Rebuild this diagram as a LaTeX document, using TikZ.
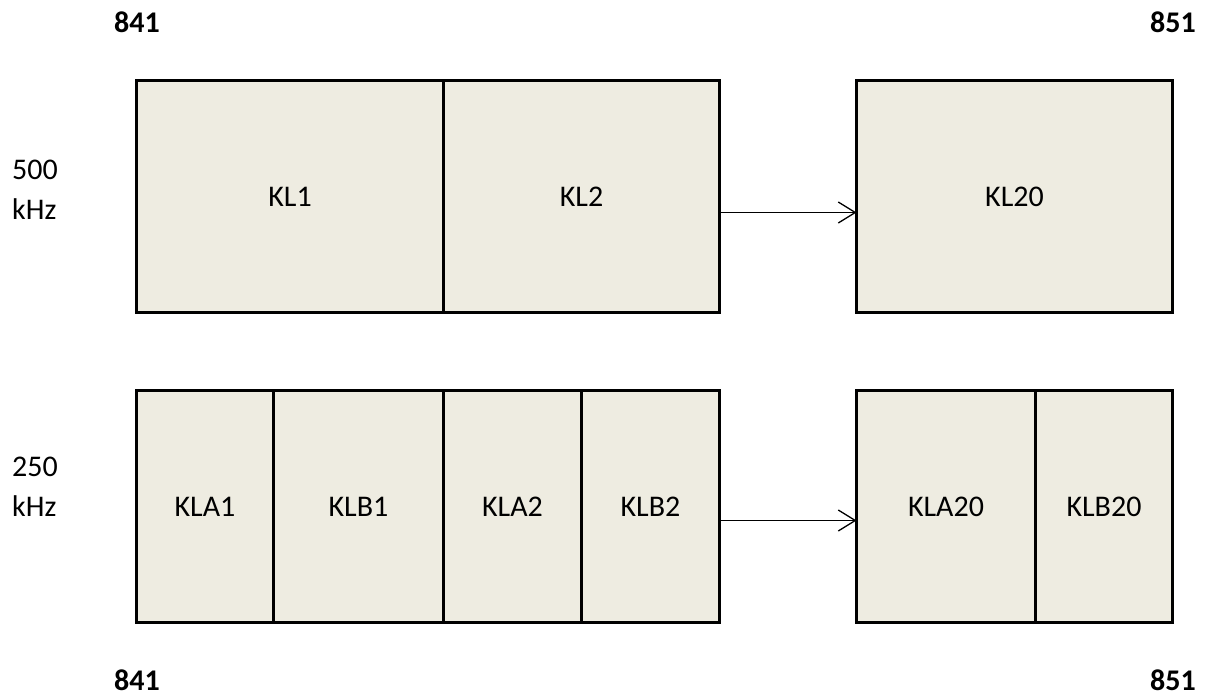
\documentclass[tikz,border=0pt]{standalone}
\usepackage{fontspec}
\setmainfont{Carlito}
\usetikzlibrary{arrows.meta}
\definecolor{cellfill}{HTML}{EEECE1}
\tikzset{
  cell/.style={draw=black, line width=3pt, fill=cellfill, rectangle, inner sep=0pt, outer sep=0pt,
    minimum height=232pt, font=\fontsize{30}{36}\selectfont},
  arr/.style={line width=1.3pt, -{Straight Barb[length=17pt,width=21pt,line width=1.3pt]}},
  freq/.style={align=left, anchor=west, font=\fontsize{30}{40}\selectfont, inner sep=0pt},
  num/.style={font=\fontsize{30}{36}\selectfont\bfseries, inner sep=0pt, anchor=base}
}
\begin{document}
\begin{tikzpicture}[x=1pt,y=-1pt]
\useasboundingbox (0,0) rectangle (1208,696);
% top row
\node[cell, minimum width=307pt] (kl1) at (290,196.5) {KL1};
\node[cell, minimum width=276pt] (kl2) at (581.5,196.5) {KL2};
\node[cell, minimum width=316pt] (kl20) at (1014.5,196.5) {KL20};
% bottom row
\node[cell, minimum width=137pt] (kla1) at (205,506.5) {KLA1};
\node[cell, minimum width=170pt] (klb1) at (358.5,506.5) {KLB1};
\node[cell, minimum width=138pt] (kla2) at (512.5,506.5) {KLA2};
\node[cell, minimum width=138pt] (klb2) at (650.5,506.5) {KLB2};
\node[cell, minimum width=179pt] (kla20) at (946,506.5) {KLA20};
\node[cell, minimum width=137pt] (klb20) at (1104,506.5) {KLB20};
% arrows
\draw[arr] ([yshift=-16pt]kl2.east) -- ([yshift=-16pt]kl20.west);
\draw[arr] ([yshift=-14pt]klb2.east) -- ([yshift=-14pt]kla20.west);
% frequency labels
\node[freq] (f500) at (12,190) {500\\kHz};
\node[freq] (f250) at (12,487) {250\\kHz};
% channel numbers
\node[num] (t841) at (137,32) {841};
\node[num] (t851) at (1173,32) {851};
\node[num] (b841) at (137,690) {841};
\node[num] (b851) at (1173,690) {851};
\end{tikzpicture}
\end{document}
